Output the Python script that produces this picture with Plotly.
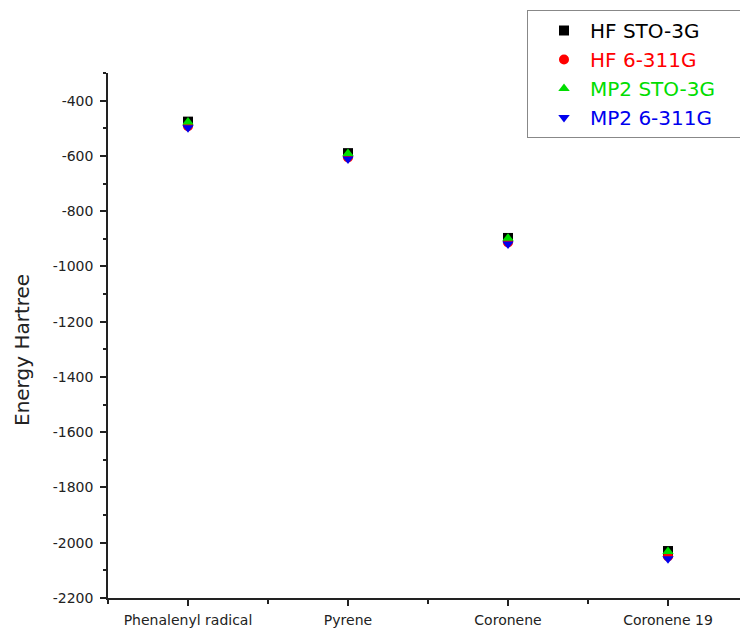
import plotly.graph_objects as go

categories = ["Phenalenyl radical", "Pyrene", "Coronene", "Coronene 19"]
hf_sto3g = [-476, -590, -897, -2030]
hf_6311g = [-493, -606, -913, -2050]
mp2_sto3g = [-477, -591, -898, -2032]
mp2_6311g = [-498, -611, -919, -2058]
y_ticks = [-400, -600, -800, -1000, -1200, -1400, -1600, -1800, -2000, -2200]

xpos = list(range(len(categories)))
series = [
    ("HF STO-3G", hf_sto3g, "square", "#000000"),
    ("HF 6-311G", hf_6311g, "circle", "#ff0000"),
    ("MP2 STO-3G", mp2_sto3g, "triangle-up", "#00dd00"),
    ("MP2 6-311G", mp2_6311g, "triangle-down", "#0000ee"),
]

fig = go.Figure()
for name, vals, sym, col in series:
    fig.add_trace(go.Scatter(
        x=xpos, y=vals, mode="markers",
        name=f"<span style='color:{col}'>{name}</span>&nbsp;&nbsp;&nbsp;",
        marker=dict(symbol=sym, color=col, size=10, line=dict(width=0)),
    ))

# page body has an 8px offset; figure is sized to the remaining viewport
W, H = 740, 624
T, B, L = 65, 34, 100
font = "DejaVu Sans, Liberation Sans, Arial, sans-serif"
fig.update_layout(
    width=W, height=H,
    margin=dict(l=L, r=0, t=T, b=B, autoexpand=False),
    paper_bgcolor="white", plot_bgcolor="white",
    font=dict(family=font, size=14, color="#222"),
    showlegend=True,
    legend=dict(
        xref="container", yref="container",
        x=519 / W, y=1 - 2 / H, xanchor="left", yanchor="top",
        bordercolor="#888", borderwidth=1, bgcolor="white",
        font=dict(size=20, family=font),
        itemwidth=42, indentation=10, tracegroupgap=0,
    ),
    xaxis=dict(
        range=[-0.5, 3.5], tickmode="array", tickvals=xpos, ticktext=categories,
        showgrid=False, zeroline=False, showline=True, linecolor="#222", linewidth=1.5,
        ticks="outside", ticklen=6, tickwidth=1.5, tickcolor="#222",
        tickfont=dict(size=14), automargin=False, ticklabelstandoff=2,
        minor=dict(tickmode="linear", tick0=0.5, dtick=1, ticks="outside", ticklen=4,
                   tickwidth=1.5, tickcolor="#222"),
    ),
    yaxis=dict(
        range=[-2200, -300], tickmode="array", tickvals=y_ticks,
        ticktext=[str(v) for v in y_ticks],
        showgrid=False, zeroline=False, showline=True, linecolor="#222", linewidth=1.5,
        ticks="outside", ticklen=6, tickwidth=1.5, tickcolor="#222",
        tickfont=dict(size=14), ticklabelstandoff=4, automargin=False,
        minor=dict(tickmode="linear", tick0=-300, dtick=100, ticks="outside", ticklen=3,
                   tickwidth=1.5, tickcolor="#222"),
    ),
    annotations=[dict(
        text="Energy Hartree", textangle=-90, showarrow=False,
        xref="paper", yref="paper",
        x=(14 - L) / (W - L), y=1 - (342 - T) / (H - T - B),
        xanchor="center", yanchor="middle",
        font=dict(size=20, family=font, color="#222"),
    )],
)

fig.write_html("out.html")
